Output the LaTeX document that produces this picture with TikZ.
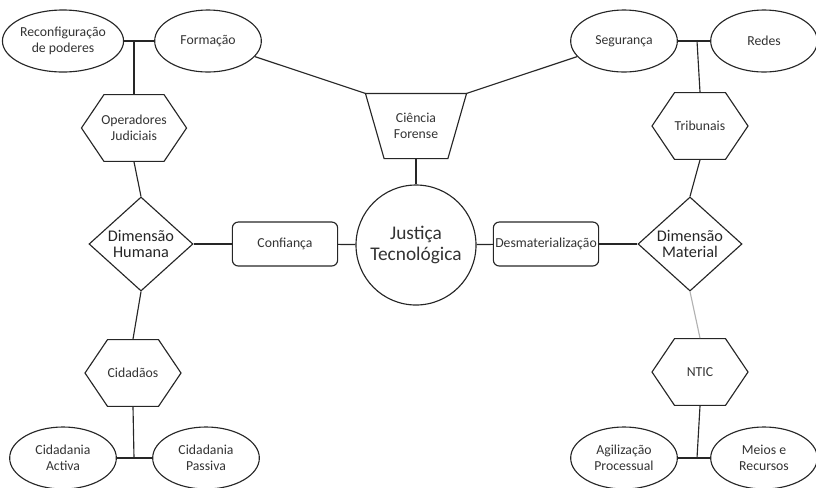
\documentclass[tikz,border=0pt]{standalone}
\usepackage{fontspec}
\setmainfont{Carlito}
\usetikzlibrary{shapes.geometric,shapes.symbols}

\begin{document}
\begin{tikzpicture}[
    x = 0.75pt, y = -0.75pt,
    line width = 0.85pt,
    small/.style={font=\fontsize{10.3}{12}\selectfont, align=center, text=black!80},
    big/.style={font=\fontsize{12.2}{12.5}\selectfont, align=center, text=black!85},
    oval/.style={ellipse, draw=black!85, small, minimum width=80pt, minimum height=46.5pt, inner sep=0pt},
    hexa/.style={signal, signal to=west and east, signal pointer angle=112, draw=black!85, small,
        minimum width=72pt, minimum height=50pt, inner xsep=-2pt, inner ysep=0pt},
    dimbox/.style={diamond, draw=black!85, big, minimum width=78pt, minimum height=64pt, inner sep=0pt},
    roundbox/.style={rectangle, rounded corners=4.5pt, draw=black!85, small, minimum width=79pt,
        minimum height=33pt, inner sep=0pt},
    link/.style={draw=black!85}
]
    \useasboundingbox (0,0) rectangle (816,487);

    % centro
    \node[circle, draw=black!85, small, font=\fontsize{14.5}{15.5}\selectfont, minimum size=90pt,
        inner sep=0pt] (just) at (416,245) {Justiça\\Tecnológica};
    \node[small, minimum width=75pt, minimum height=48pt, inner sep=0pt] (cien) at (416,126) {Ciência\\Forense};
    \draw[black!85] (cien.north west) -- (cien.north east) -- ([xshift=-14pt]cien.south east)
        -- ([xshift=14pt]cien.south west) -- cycle;
    \node[roundbox] (conf) at (285,244) {Confiança};
    \node[roundbox] (desm) at (546,244) {Desmaterialização};

    % lado humano
    \node[dimbox] (dimh) at (141,244) {Dimensão\\Humana};
    \node[hexa] (oper) at (134,128) {Operadores\\Judiciais};
    \node[hexa] (cid) at (133,373) {Cidadãos};
    \node[oval] (rec) at (63,41) {Reconfiguração\\de poderes};
    \node[oval] (form) at (208,41) {Formação};
    \node[oval] (cact) at (63,458) {Cidadania\\Activa};
    \node[oval] (cpas) at (206,458) {Cidadania\\Passiva};
    \coordinate (jhtop) at (134,41);
    \coordinate (jhbot) at (134,458);

    % lado material
    \node[dimbox] (dimm) at (690,244) {Dimensão\\Material};
    \node[hexa] (trib) at (700,126) {Tribunais};
    \node[hexa] (ntic) at (700,372) {NTIC};
    \node[oval] (seg) at (624,41) {Segurança};
    \node[oval] (redes) at (764,41) {Redes};
    \node[oval] (agil) at (624,458) {Agilização\\Processual};
    \node[oval] (meios) at (764,458) {Meios e\\Recursos};
    \coordinate (jmtop) at (697,41);
    \coordinate (jmbot) at (697,458);

    \path[link]
        (conf) edge (just)
        (desm) edge (just)
        (dimh) edge (conf)
        (desm) edge (dimm)
        (cien) edge (just)
        (form) edge (cien.north west)
        (seg) edge (cien.north east)
        (rec) edge (form)
        (jhtop) edge (oper.north)
        (oper.south) edge (dimh.north)
        (dimh.south) edge (cid.north)
        (cact) edge (cpas)
        (cid.south) edge (jhbot)
        (seg) edge (redes)
        (jmtop) edge (trib.north)
        (trib.south) edge (dimm.north)
        (agil) edge (meios)
        (ntic.south) edge (jmbot);
    \draw[black!30] (dimm.south) -- (ntic.north);
\end{tikzpicture}
\end{document}
